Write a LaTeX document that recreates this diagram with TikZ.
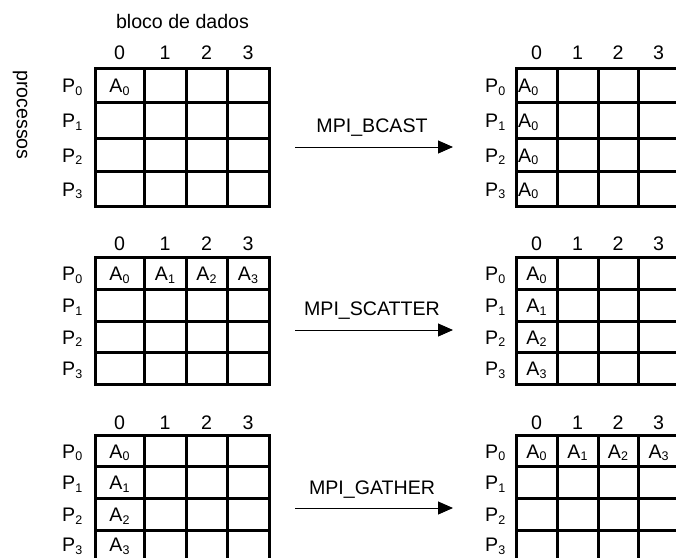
\documentclass[tikz,border=0pt]{standalone}
\usepackage{fontspec}
\setmainfont{Liberation Sans}
\usetikzlibrary{arrows.meta}
\newcommand\sbx[1]{\raisebox{-2.5pt}{\fontsize{12.5}{12.5}\selectfont #1}}
\begin{document}
\begin{tikzpicture}[x=1pt,y=-1pt,
  txt/.style={inner sep=0pt, font=\fontsize{19.6}{22}\selectfont},
  gridline/.style={line width=3pt},
  op/.style={line width=1pt,-{Triangle[length=15pt,width=13pt]}}]
\useasboundingbox (0,0) rectangle (676,557);
\clip (0,0) rectangle (676,557);
\fill[white] (0,0) rectangle (676,557);

% grids
\foreach \ya/\yb/\yc/\yd/\ye in {68/102/138/171/206, 257/289/321/352/384, 435/466/498/530/562} {
  \foreach \xa/\xb/\xc/\xd/\xe in {95/144/186/227/269, 516/557/598/638/679} {
    \draw[gridline] (\xa,\ya) rectangle (\xe,\ye);
    \draw[gridline] (\xb,\ya)--(\xb,\ye) (\xc,\ya)--(\xc,\ye) (\xd,\ya)--(\xd,\ye)
                    (\xa,\yb)--(\xe,\yb) (\xa,\yc)--(\xe,\yc) (\xa,\yd)--(\xe,\yd);
  }
}

% headings
\node[txt, anchor=base] (bloco) at (182.5,28.5) {bloco de dados};
\node[txt, rotate=-90] (proc) at (20,115) {processos};

% column labels
\foreach \g/\yb in {T/59, M/250.5, B/429.5} {
  \foreach \i/\xl/\xr in {0/119.5/536.5, 1/165/577.5, 2/206.5/618, 3/248/658.5} {
    \node[txt, anchor=base] (cL\g\i) at (\xl,\yb) {\i};
    \node[txt, anchor=base] (cR\g\i) at (\xr,\yb) {\i};
  }
}

% row labels
\foreach \g/\ra/\rb/\rc/\rd in {T/85/120/154.5/188.5, M/273/305/336.5/368, B/450.5/482/514/544} {
  \foreach \i/\yc in {0/\ra, 1/\rb, 2/\rc, 3/\rd} {
    \node[txt, anchor=base west] (pL\g\i) at (62,\yc+7.5) {P\sbx{\i}};
    \node[txt, anchor=base west] (pR\g\i) at (485,\yc+7.5) {P\sbx{\i}};
  }
}

% data: broadcast
\node[txt, anchor=base] (aT) at (119.5,92.5) {A\sbx{0}};
\node[txt, anchor=base west] (bR0) at (518,92.5) {A\sbx{0}};
\node[txt, anchor=base west] (bR1) at (518,127.5) {A\sbx{0}};
\node[txt, anchor=base west] (bR2) at (518,162) {A\sbx{0}};
\node[txt, anchor=base west] (bR3) at (518,196) {A\sbx{0}};

% data: scatter
\foreach \i/\x in {0/119.5, 1/165, 2/206.5, 3/248} {
  \node[txt, anchor=base] (sL\i) at (\x,280.5) {A\sbx{\i}};
}
\foreach \i/\y in {0/273, 1/305, 2/336.5, 3/368} {
  \node[txt, anchor=base] (sR\i) at (536.5,\y+7.5) {A\sbx{\i}};
}

% data: gather
\foreach \i/\y in {0/450.5, 1/482, 2/514, 3/544} {
  \node[txt, anchor=base] (gL\i) at (119.5,\y+7.5) {A\sbx{\i}};
}
\foreach \i/\x in {0/536.5, 1/577.5, 2/618, 3/658.5} {
  \node[txt, anchor=base] (gR\i) at (\x,458) {A\sbx{\i}};
}

% operations
\coordinate (bs) at (295,147); \coordinate (be) at (453,147);
\draw[op] (bs) -- (be);
\node[txt, anchor=base] (bl) at (372,132.3) {MPI\_BCAST};

\coordinate (ss) at (295,330); \coordinate (se) at (453,330);
\draw[op] (ss) -- (se);
\node[txt, anchor=base] (sl) at (372,315.7) {MPI\_SCATTER};

\coordinate (gs) at (295,508); \coordinate (ge) at (453,508);
\draw[op] (gs) -- (ge);
\node[txt, anchor=base] (gl) at (372,494) {MPI\_GATHER};
\end{tikzpicture}
\end{document}
